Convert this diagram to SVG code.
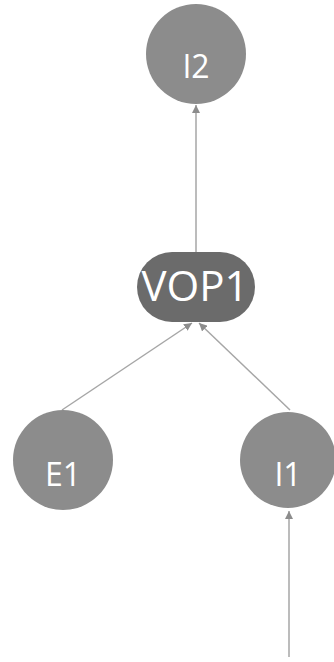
<svg xmlns="http://www.w3.org/2000/svg" width="334" height="662" viewBox="0 0 334 662">
<style>
.node{fill:#8c8c8c}
.op{fill:#6b6b6b}
.lbl{fill:#ffffff;font-family:"Open Sans","Liberation Sans",sans-serif;text-anchor:middle}
.edge{stroke:#a6a6a6;stroke-width:1.5;fill:none;marker-end:url(#ah)}
</style>
<defs>
<marker id="ah" viewBox="0 0 10 10" refX="10" refY="5" markerWidth="8" markerHeight="8" orient="auto" markerUnits="userSpaceOnUse">
<path d="M0,0 L10,5 L0,10 z" fill="#8c8c8c"/>
</marker>
</defs>
<rect width="334" height="662" fill="#ffffff"/>
<g id="connectors">
<line class="edge" x1="196" y1="252" x2="196" y2="105"/>
<line class="edge" x1="62" y1="410" x2="192" y2="323"/>
<line class="edge" x1="290" y1="410" x2="199" y2="323"/>
<line class="edge" x1="289" y1="657" x2="289" y2="511"/>
</g>
<g id="I2">
<circle class="node" cx="196" cy="54" r="50"/>
<text class="lbl" x="196" y="78" font-size="32">I2</text>
</g>
<g id="VOP1">
<rect class="op" x="137" y="252" width="118" height="70" rx="35"/>
<text class="lbl" x="195" y="301" font-size="42">VOP1</text>
</g>
<g id="E1">
<circle class="node" cx="63" cy="460" r="50"/>
<text class="lbl" x="63" y="486" font-size="32">E1</text>
</g>
<g id="I1">
<circle class="node" cx="288" cy="460" r="48"/>
<text class="lbl" x="288" y="486" font-size="32">I1</text>
</g>
</svg>
